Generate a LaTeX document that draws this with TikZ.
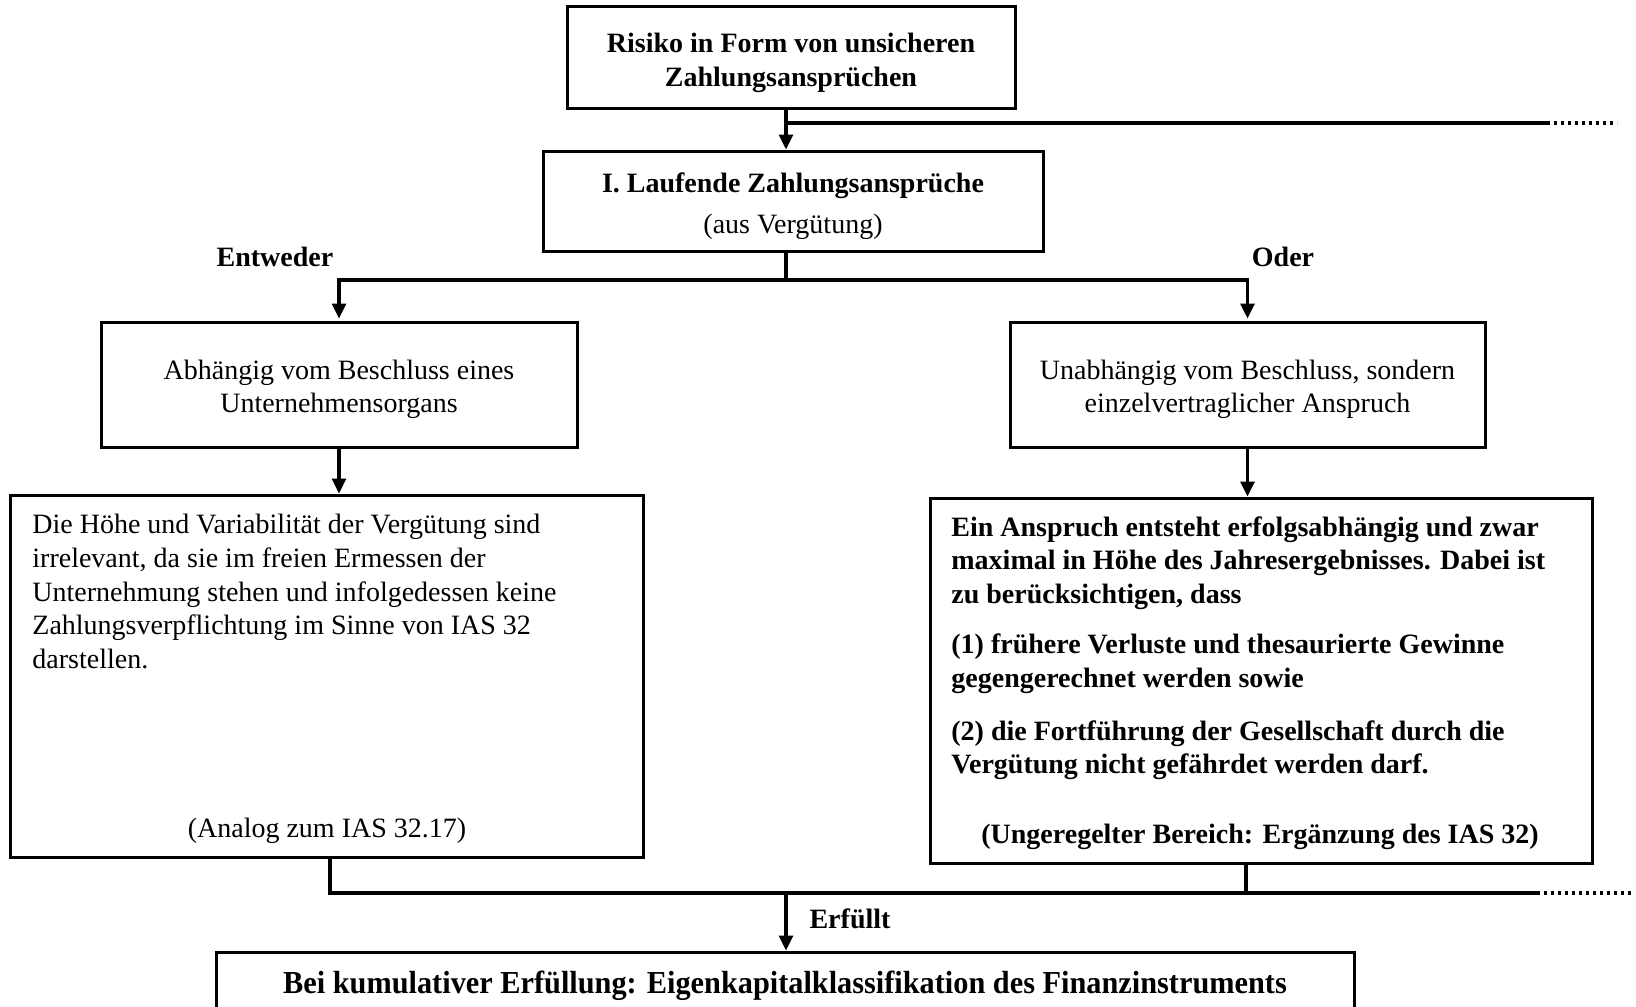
\documentclass[tikz,border=0pt]{standalone}
\usepackage{fontspec}
\setmainfont{Liberation Serif}
\usetikzlibrary{arrows.meta}
\begin{document}
\begin{tikzpicture}[x=0.5pt,y=-0.5pt,
  box/.style={draw, line width=1.5pt, inner sep=0pt, rectangle},
  ln/.style={line width=1.6pt},
  arr/.style={ln, -{Triangle[length=7.5pt,width=7pt]}},
  dotline/.style={line width=1.6pt, dash pattern=on 1.7pt off 1.8pt},
  txt/.style={inner sep=0pt},
  btxt/.style={inner sep=0pt, font=\fontsize{14}{16.8}\selectfont\bfseries},
  every node/.style={font=\fontsize{14}{16.8}\selectfont},
  ]
\useasboundingbox (0,0) rectangle (1636,1006);
\clip (0,0) rectangle (1636,1006);

% boxes
\node[box, minimum width=224pt, minimum height=51pt] (top) at (791,58) {};
\node[box, minimum width=250pt, minimum height=50pt] (box2) at (793,201) {};
\node[box, minimum width=238pt, minimum height=62.5pt] (L1) at (339,384.5) {};
\node[box, minimum width=237.5pt, minimum height=62.5pt] (R1) at (1247.5,384.5) {};
\node[box, minimum width=316.5pt, minimum height=181pt] (L2) at (326.5,676) {};
\node[box, minimum width=331pt, minimum height=182.5pt] (R2) at (1261,680.5) {};
\node[box, minimum width=569pt, minimum height=32pt] (bottom) at (785,984) {};

% box texts
\node[btxt, align=center] (topt) at ([yshift=-2.3pt]top.center)
  {Risiko in Form von unsicheren\\Zahlungsansprüchen};
\node[txt, align=center] (box2t) at ([yshift=-2.5pt]box2.center)
  {\textbf{I. Laufende Zahlungsansprüche}\\[3.4pt](aus Vergütung)};
\node[txt, align=center] (L1t) at ([yshift=-2.5pt]L1.center)
  {Abhängig vom Beschluss eines\\Unternehmensorgans};
\node[txt, align=center] (R1t) at ([yshift=-2.5pt]R1.center)
  {Unabhängig vom Beschluss, sondern\\einzelvertraglicher Anspruch};
\node[txt, font=\fontsize{16}{18}\selectfont\bfseries\addfontfeature{FakeStretch=0.947}] (bottomt) at ([yshift=-1pt]bottom.center)
  {Bei kumulativer Erfüllung: Eigenkapitalklassifikation des Finanzinstruments};

\node[txt, anchor=north west, align=left] (L2t) at (32,514)
  {Die Höhe und Variabilität der Vergütung sind\\
   irrelevant, da sie im freien Ermessen der\\
   Unternehmung stehen und infolgedessen keine\\
   Zahlungsverpflichtung im Sinne von IAS 32\\
   darstellen.};
\node[txt] (L2b) at (327,831) {(Analog zum IAS 32.17)};
\node[btxt, anchor=north west, align=left] (R2t) at (951,516)
  {Ein Anspruch entsteht erfolgsabhängig und zwar\\
   maximal in Höhe des Jahresergebnisses. Dabei ist\\
   zu berücksichtigen, dass\\[8.5pt]
   (1) frühere Verluste und thesaurierte Gewinne\\
   gegengerechnet werden sowie\\[9.5pt]
   (2) die Fortführung der Gesellschaft durch die\\
   Vergütung nicht gefährdet werden darf.};
\node[btxt] (R2b) at (1260,837) {(Ungeregelter Bereich: Ergänzung des IAS 32)};

% labels
\node[btxt] (entw) at (275,257) {Entweder};
\node[btxt] (oder) at (1283,257) {Oder};
\node[btxt] (erf) at (850,919) {Erfüllt};

% connectors
\coordinate (j1) at (786,123);
\coordinate (e1) at (1547,123);
\coordinate (e1d) at (1617,123);
\draw[arr] (top.south -| j1) -- (box2.north -| j1);
\draw[ln] (j1) -- (e1);
\draw[dotline] (e1) -- (e1d);

\coordinate (j2) at (786,280);
\draw[arr, shorten >=1pt] (box2.south -| j2) -- (j2) -| (L1.north);
\draw[arr, shorten >=1pt] (j2) -| (R1.north);

\draw[arr] (L1.south) -- (L2.north -| L1.south);
\draw[arr] (R1.south) -- (R2.north -| R1.south);

\coordinate (j3) at (786,893);
\coordinate (bl) at (330,893);
\coordinate (br) at (1246,893);
\coordinate (e2) at (1537,893);
\coordinate (e2d) at (1633,893);
\draw[ln] (L2.south -| bl) -- (bl) -- (e2);
\draw[ln] (R2.south -| br) -- (br);
\draw[dotline] (e2) -- (e2d);
\draw[arr] (j3) -- (bottom.north -| j3);
\end{tikzpicture}
\end{document}
